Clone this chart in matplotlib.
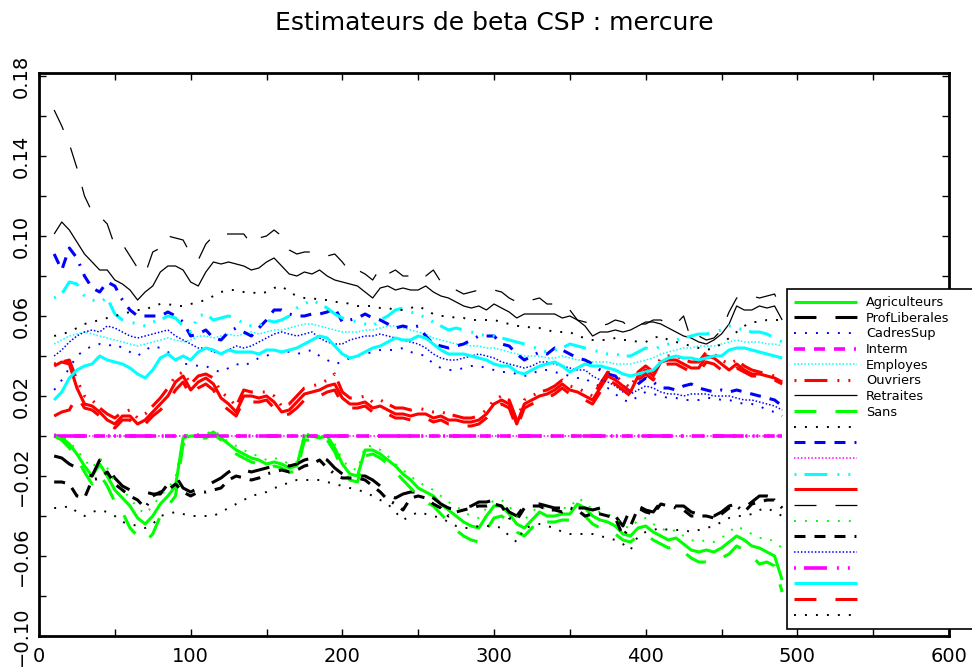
import matplotlib
matplotlib.use("Agg")
import matplotlib.pyplot as plt

plt.rcParams['lines.scale_dashes'] = False
plt.rcParams['font.family'] = ['DejaVu Sans']

# ---------------- data ----------------
x = list(range(10, 491, 5))  # estimation index

agri_1 = [0.000, -0.001, -0.004, -0.009, -0.015, -0.020, -0.014, -0.020, -0.027, -0.031,
          -0.035, -0.041, -0.044, -0.040, -0.034, -0.030, -0.025, -0.001, 0.000, 0.000,
          0.000, 0.002, -0.001, -0.004, -0.007, -0.009, -0.011, -0.012, -0.014, -0.013,
          -0.014, -0.016, -0.015, 0.000, 0.000, -0.001, 0.000, -0.006, -0.014, -0.019,
          -0.020, -0.007, -0.007, -0.009, -0.012, -0.015, -0.019, -0.022, -0.026, -0.028,
          -0.030, -0.034, -0.037, -0.040, -0.043, -0.045, -0.046, -0.040, -0.035, -0.035,
          -0.039, -0.044, -0.046, -0.042, -0.038, -0.040, -0.040, -0.039, -0.039, -0.034,
          -0.036, -0.040, -0.042, -0.043, -0.045, -0.049, -0.050, -0.046, -0.045, -0.048,
          -0.050, -0.052, -0.051, -0.054, -0.057, -0.058, -0.057, -0.058, -0.056, -0.053,
          -0.050, -0.052, -0.055, -0.056, -0.058, -0.060, -0.072]
agri_2 = [0.000, -0.002, -0.006, -0.011, -0.018, -0.024, -0.019, -0.025, -0.033, -0.038,
          -0.046, -0.050, -0.053, -0.049, -0.040, -0.035, -0.030, -0.004, -0.002, -0.001,
          -0.001, 0.001, -0.002, -0.005, -0.009, -0.011, -0.013, -0.014, -0.016, -0.015,
          -0.016, -0.018, -0.018, -0.002, -0.002, -0.003, -0.002, -0.008, -0.017, -0.022,
          -0.023, -0.010, -0.009, -0.011, -0.014, -0.018, -0.022, -0.026, -0.030, -0.033,
          -0.035, -0.039, -0.043, -0.047, -0.050, -0.052, -0.053, -0.047, -0.041, -0.040,
          -0.043, -0.048, -0.050, -0.046, -0.041, -0.043, -0.043, -0.042, -0.042, -0.037,
          -0.040, -0.044, -0.046, -0.047, -0.049, -0.052, -0.053, -0.050, -0.049, -0.052,
          -0.054, -0.056, -0.055, -0.058, -0.061, -0.063, -0.063, -0.063, -0.061, -0.059,
          -0.055, -0.057, -0.060, -0.064, -0.063, -0.065, -0.078]
agri_3 = [0.001, 0.000, -0.003, -0.007, -0.012, -0.016, -0.011, -0.016, -0.023, -0.027,
          -0.031, -0.036, -0.039, -0.035, -0.030, -0.026, -0.021, 0.000, 0.001, 0.001,
          0.001, 0.003, 0.000, -0.003, -0.005, -0.007, -0.009, -0.010, -0.012, -0.011,
          -0.012, -0.014, -0.013, 0.001, 0.001, 0.000, 0.001, -0.004, -0.012, -0.016,
          -0.017, -0.005, -0.005, -0.007, -0.010, -0.014, -0.017, -0.020, -0.023, -0.025,
          -0.027, -0.030, -0.033, -0.035, -0.038, -0.040, -0.041, -0.036, -0.032, -0.032,
          -0.035, -0.040, -0.042, -0.038, -0.035, -0.037, -0.037, -0.036, -0.036, -0.031,
          -0.033, -0.037, -0.038, -0.039, -0.041, -0.045, -0.046, -0.042, -0.041, -0.044,
          -0.046, -0.048, -0.047, -0.050, -0.052, -0.053, -0.052, -0.053, -0.051, -0.048,
          -0.045, -0.047, -0.049, -0.051, -0.051, -0.053, -0.056]

profl_1 = [-0.010, -0.011, -0.014, -0.016, -0.019, -0.020, -0.012, -0.016, -0.021, -0.025,
           -0.027, -0.028, -0.028, -0.029, -0.029, -0.024, -0.020, -0.026, -0.028, -0.026,
           -0.025, -0.023, -0.021, -0.018, -0.016, -0.017, -0.018, -0.017, -0.016, -0.015,
           -0.014, -0.015, -0.014, -0.012, -0.011, -0.010, -0.012, -0.016, -0.019, -0.020,
           -0.020, -0.020, -0.022, -0.025, -0.030, -0.031, -0.029, -0.028, -0.028, -0.029,
           -0.031, -0.034, -0.036, -0.037, -0.036, -0.035, -0.033, -0.033, -0.032, -0.033,
           -0.038, -0.040, -0.035, -0.034, -0.034, -0.035, -0.036, -0.036, -0.035, -0.036,
           -0.036, -0.037, -0.036, -0.038, -0.040, -0.045, -0.036, -0.035, -0.037, -0.038,
           -0.033, -0.034, -0.035, -0.035, -0.038, -0.039, -0.039, -0.040, -0.038, -0.035,
           -0.034, -0.036, -0.033, -0.030, -0.030, -0.031, -0.032]
profl_2 = [-0.036, -0.036, -0.035, -0.038, -0.040, -0.038, -0.037, -0.038, -0.040, -0.043,
           -0.044, -0.045, -0.046, -0.044, -0.040, -0.039, -0.038, -0.039, -0.040, -0.040,
           -0.040, -0.040, -0.038, -0.036, -0.034, -0.032, -0.030, -0.029, -0.028, -0.026,
           -0.025, -0.023, -0.022, -0.022, -0.022, -0.022, -0.023, -0.024, -0.025, -0.026,
           -0.027, -0.028, -0.030, -0.032, -0.034, -0.038, -0.042, -0.040, -0.038, -0.039,
           -0.040, -0.041, -0.043, -0.045, -0.046, -0.046, -0.045, -0.045, -0.045, -0.046,
           -0.050, -0.053, -0.046, -0.045, -0.044, -0.045, -0.046, -0.048, -0.049, -0.049,
           -0.049, -0.049, -0.050, -0.051, -0.052, -0.054, -0.057, -0.050, -0.048, -0.047,
           -0.046, -0.047, -0.047, -0.047, -0.048, -0.047, -0.046, -0.045, -0.043, -0.041,
           -0.040, -0.040, -0.039, -0.037, -0.036, -0.038, -0.040]
profl_3 = [-0.023, -0.023, -0.024, -0.030, -0.031, -0.022, -0.021, -0.018, -0.024, -0.027,
           -0.030, -0.032, -0.036, -0.030, -0.028, -0.027, -0.024, -0.028, -0.030, -0.028,
           -0.028, -0.027, -0.026, -0.022, -0.020, -0.021, -0.022, -0.021, -0.019, -0.018,
           -0.017, -0.018, -0.017, -0.015, -0.014, -0.012, -0.016, -0.019, -0.021, -0.021,
           -0.021, -0.022, -0.025, -0.028, -0.032, -0.034, -0.037, -0.031, -0.030, -0.031,
           -0.034, -0.036, -0.040, -0.038, -0.037, -0.036, -0.035, -0.035, -0.034, -0.035,
           -0.041, -0.042, -0.036, -0.035, -0.035, -0.037, -0.037, -0.038, -0.036, -0.037,
           -0.040, -0.039, -0.039, -0.040, -0.041, -0.050, -0.045, -0.036, -0.038, -0.039,
           -0.034, -0.035, -0.036, -0.037, -0.040, -0.040, -0.040, -0.041, -0.039, -0.036,
           -0.035, -0.038, -0.034, -0.033, -0.032, -0.032, -0.036]

cadres_1 = [0.023, 0.028, 0.034, 0.040, 0.043, 0.045, 0.046, 0.045, 0.046, 0.044,
            0.042, 0.040, 0.043, 0.045, 0.044, 0.042, 0.039, 0.036, 0.036, 0.035,
            0.035, 0.033, 0.032, 0.034, 0.036, 0.035, 0.037, 0.039, 0.040, 0.042,
            0.043, 0.042, 0.041, 0.042, 0.043, 0.040, 0.038, 0.036, 0.037, 0.039,
            0.040, 0.041, 0.042, 0.043, 0.043, 0.043, 0.044, 0.042, 0.041, 0.040,
            0.036, 0.034, 0.033, 0.033, 0.034, 0.035, 0.035, 0.034, 0.033, 0.032,
            0.032, 0.031, 0.030, 0.031, 0.033, 0.033, 0.032, 0.031, 0.030, 0.029,
            0.029, 0.026, 0.025, 0.024, 0.021, 0.018, 0.017, 0.020, 0.022, 0.021,
            0.020, 0.019, 0.019, 0.018, 0.018, 0.018, 0.019, 0.019, 0.018, 0.018,
            0.017, 0.016, 0.016, 0.015, 0.013, 0.012, 0.010]
cadres_2 = [0.091, 0.083, 0.094, 0.089, 0.080, 0.074, 0.072, 0.077, 0.075, 0.068,
            0.063, 0.060, 0.060, 0.060, 0.060, 0.062, 0.060, 0.057, 0.050, 0.051,
            0.053, 0.049, 0.048, 0.052, 0.054, 0.052, 0.050, 0.054, 0.058, 0.063,
            0.063, 0.061, 0.060, 0.060, 0.061, 0.061, 0.062, 0.064, 0.057, 0.058,
            0.059, 0.061, 0.059, 0.058, 0.056, 0.054, 0.055, 0.054, 0.055, 0.050,
            0.046, 0.045, 0.044, 0.045, 0.046, 0.048, 0.050, 0.050, 0.050, 0.046,
            0.045, 0.041, 0.038, 0.040, 0.042, 0.041, 0.044, 0.043, 0.041, 0.039,
            0.038, 0.036, 0.033, 0.031, 0.030, 0.025, 0.022, 0.026, 0.029, 0.027,
            0.024, 0.024, 0.023, 0.025, 0.026, 0.024, 0.023, 0.022, 0.023, 0.022,
            0.023, 0.022, 0.021, 0.020, 0.019, 0.018, 0.015]
cadres_3 = [0.040, 0.043, 0.047, 0.050, 0.052, 0.053, 0.052, 0.055, 0.054, 0.052,
            0.050, 0.049, 0.050, 0.051, 0.052, 0.053, 0.050, 0.048, 0.046, 0.044,
            0.044, 0.042, 0.041, 0.043, 0.045, 0.044, 0.045, 0.047, 0.049, 0.051,
            0.052, 0.051, 0.050, 0.051, 0.052, 0.049, 0.047, 0.046, 0.046, 0.048,
            0.049, 0.050, 0.050, 0.051, 0.050, 0.049, 0.048, 0.047, 0.046, 0.044,
            0.041, 0.039, 0.038, 0.038, 0.039, 0.040, 0.041, 0.040, 0.039, 0.037,
            0.036, 0.035, 0.034, 0.035, 0.037, 0.037, 0.036, 0.035, 0.034, 0.033,
            0.033, 0.030, 0.028, 0.027, 0.025, 0.022, 0.021, 0.023, 0.025, 0.024,
            0.022, 0.021, 0.021, 0.020, 0.021, 0.021, 0.021, 0.020, 0.020, 0.020,
            0.019, 0.018, 0.018, 0.017, 0.016, 0.015, 0.013]

interm_1 = [0.0] * len(x)
interm_2 = [0.0] * len(x)
interm_3 = [0.0] * len(x)

employes_1 = [0.046, 0.048, 0.050, 0.051, 0.052, 0.051, 0.050, 0.049, 0.048, 0.047,
              0.046, 0.045, 0.046, 0.047, 0.048, 0.049, 0.048, 0.047, 0.048, 0.050,
              0.050, 0.049, 0.050, 0.051, 0.050, 0.051, 0.052, 0.051, 0.052, 0.053,
              0.053, 0.054, 0.055, 0.056, 0.056, 0.055, 0.054, 0.053, 0.052, 0.052,
              0.052, 0.053, 0.053, 0.054, 0.055, 0.055, 0.054, 0.053, 0.052, 0.051,
              0.049, 0.048, 0.047, 0.046, 0.046, 0.045, 0.045, 0.044, 0.044, 0.043,
              0.042, 0.041, 0.040, 0.040, 0.040, 0.039, 0.039, 0.040, 0.039, 0.038,
              0.038, 0.037, 0.037, 0.037, 0.036, 0.036, 0.036, 0.037, 0.038, 0.039,
              0.041, 0.042, 0.043, 0.044, 0.044, 0.045, 0.045, 0.045, 0.046, 0.047,
              0.048, 0.047, 0.047, 0.047, 0.046, 0.046, 0.045]
employes_2 = [0.069, 0.071, 0.077, 0.076, 0.070, 0.068, 0.067, 0.069, 0.061, 0.058,
              0.057, 0.056, 0.055, 0.057, 0.058, 0.060, 0.059, 0.055, 0.052, 0.060,
              0.061, 0.058, 0.059, 0.060, 0.059, 0.056, 0.055, 0.055, 0.058, 0.057,
              0.058, 0.060, 0.064, 0.066, 0.068, 0.066, 0.064, 0.061, 0.059, 0.058,
              0.057, 0.056, 0.055, 0.058, 0.060, 0.063, 0.064, 0.062, 0.061, 0.059,
              0.057, 0.055, 0.053, 0.054, 0.053, 0.052, 0.051, 0.050, 0.050, 0.049,
              0.048, 0.047, 0.046, 0.045, 0.043, 0.042, 0.043, 0.044, 0.046, 0.045,
              0.044, 0.043, 0.042, 0.041, 0.041, 0.040, 0.040, 0.042, 0.044, 0.043,
              0.045, 0.046, 0.048, 0.049, 0.050, 0.051, 0.051, 0.052, 0.053, 0.055,
              0.054, 0.053, 0.052, 0.052, 0.051, 0.049, 0.047]
employes_3 = [0.018, 0.022, 0.029, 0.033, 0.035, 0.036, 0.040, 0.038, 0.037, 0.036,
              0.034, 0.031, 0.029, 0.033, 0.039, 0.041, 0.038, 0.040, 0.038, 0.042,
              0.044, 0.043, 0.041, 0.043, 0.042, 0.042, 0.042, 0.041, 0.043, 0.043,
              0.042, 0.043, 0.044, 0.046, 0.048, 0.050, 0.049, 0.045, 0.041, 0.039,
              0.040, 0.042, 0.044, 0.045, 0.047, 0.049, 0.048, 0.048, 0.050, 0.049,
              0.046, 0.043, 0.041, 0.041, 0.041, 0.040, 0.039, 0.038, 0.036, 0.035,
              0.035, 0.032, 0.031, 0.033, 0.035, 0.036, 0.037, 0.035, 0.032, 0.034,
              0.036, 0.035, 0.035, 0.034, 0.033, 0.031, 0.030, 0.031, 0.032, 0.033,
              0.037, 0.039, 0.040, 0.039, 0.039, 0.038, 0.039, 0.040, 0.040, 0.043,
              0.044, 0.044, 0.043, 0.042, 0.041, 0.040, 0.039]

ouvriers_1 = [0.036, 0.037, 0.038, 0.028, 0.020, 0.018, 0.014, 0.011, 0.009, 0.012,
              0.013, 0.009, 0.011, 0.015, 0.019, 0.024, 0.030, 0.032, 0.026, 0.030,
              0.031, 0.029, 0.022, 0.019, 0.015, 0.023, 0.022, 0.022, 0.022, 0.020,
              0.015, 0.016, 0.020, 0.024, 0.025, 0.026, 0.028, 0.031, 0.022, 0.019,
              0.019, 0.020, 0.017, 0.018, 0.016, 0.014, 0.014, 0.013, 0.014, 0.013,
              0.012, 0.012, 0.011, 0.010, 0.009, 0.009, 0.010, 0.013, 0.018, 0.020,
              0.018, 0.008, 0.018, 0.020, 0.022, 0.023, 0.025, 0.028, 0.025, 0.024,
              0.022, 0.020, 0.026, 0.032, 0.030, 0.027, 0.024, 0.032, 0.035, 0.032,
              0.039, 0.040, 0.040, 0.038, 0.037, 0.037, 0.042, 0.041, 0.038, 0.036,
              0.038, 0.035, 0.033, 0.032, 0.031, 0.030, 0.028]
ouvriers_2 = [0.035, 0.037, 0.036, 0.024, 0.016, 0.015, 0.012, 0.008, 0.006, 0.010,
              0.010, 0.006, 0.008, 0.012, 0.016, 0.020, 0.027, 0.030, 0.023, 0.027,
              0.029, 0.026, 0.019, 0.016, 0.012, 0.020, 0.020, 0.019, 0.020, 0.017,
              0.012, 0.013, 0.017, 0.021, 0.022, 0.023, 0.025, 0.026, 0.019, 0.016,
              0.016, 0.017, 0.014, 0.015, 0.013, 0.011, 0.011, 0.010, 0.011, 0.011,
              0.009, 0.010, 0.008, 0.008, 0.007, 0.007, 0.008, 0.011, 0.016, 0.018,
              0.016, 0.006, 0.016, 0.018, 0.020, 0.021, 0.023, 0.026, 0.023, 0.022,
              0.020, 0.018, 0.024, 0.030, 0.028, 0.025, 0.022, 0.030, 0.033, 0.030,
              0.037, 0.038, 0.038, 0.036, 0.034, 0.034, 0.040, 0.039, 0.036, 0.033,
              0.036, 0.033, 0.031, 0.031, 0.030, 0.029, 0.027]
ouvriers_3 = [0.010, 0.012, 0.013, 0.020, 0.014, 0.013, 0.010, 0.006, 0.004, 0.008,
              0.008, 0.004, 0.006, 0.010, 0.013, 0.017, 0.023, 0.027, 0.020, 0.024,
              0.026, 0.023, 0.016, 0.013, 0.010, 0.018, 0.017, 0.017, 0.018, 0.014,
              0.010, 0.011, 0.014, 0.018, 0.019, 0.020, 0.022, 0.023, 0.016, 0.014,
              0.014, 0.015, 0.012, 0.013, 0.011, 0.009, 0.009, 0.008, 0.009, 0.009,
              0.007, 0.008, 0.006, 0.006, 0.005, 0.005, 0.006, 0.009, 0.014, 0.016,
              0.014, 0.004, 0.014, 0.016, 0.018, 0.019, 0.021, 0.024, 0.021, 0.020,
              0.018, 0.016, 0.022, 0.028, 0.026, 0.023, 0.020, 0.028, 0.031, 0.028,
              0.035, 0.036, 0.036, 0.034, 0.032, 0.032, 0.037, 0.036, 0.033, 0.031,
              0.034, 0.032, 0.030, 0.030, 0.029, 0.028, 0.026]

retraites_1 = [0.101, 0.107, 0.103, 0.097, 0.091, 0.087, 0.083, 0.083, 0.078, 0.076,
               0.073, 0.068, 0.072, 0.075, 0.082, 0.085, 0.085, 0.083, 0.077, 0.075,
               0.082, 0.087, 0.086, 0.087, 0.086, 0.085, 0.083, 0.084, 0.087, 0.089,
               0.085, 0.081, 0.080, 0.082, 0.081, 0.083, 0.080, 0.078, 0.077, 0.076,
               0.075, 0.072, 0.069, 0.074, 0.075, 0.073, 0.074, 0.073, 0.073, 0.075,
               0.072, 0.070, 0.069, 0.067, 0.065, 0.064, 0.065, 0.063, 0.066, 0.064,
               0.062, 0.059, 0.061, 0.061, 0.061, 0.061, 0.061, 0.059, 0.060, 0.058,
               0.055, 0.050, 0.052, 0.052, 0.053, 0.052, 0.053, 0.055, 0.057, 0.057,
               0.056, 0.054, 0.052, 0.050, 0.049, 0.047, 0.046, 0.048, 0.051, 0.056,
               0.065, 0.063, 0.063, 0.065, 0.064, 0.065, 0.058]
retraites_2 = [0.163, 0.155, 0.146, 0.134, 0.120, 0.112, 0.110, 0.106, 0.095, 0.096,
               0.090, 0.084, 0.081, 0.092, 0.094, 0.100, 0.099, 0.098, 0.091, 0.088,
               0.096, 0.100, 0.101, 0.101, 0.101, 0.101, 0.096, 0.099, 0.100, 0.103,
               0.100, 0.093, 0.091, 0.092, 0.092, 0.091, 0.090, 0.091, 0.087, 0.082,
               0.083, 0.081, 0.078, 0.084, 0.081, 0.083, 0.080, 0.080, 0.082, 0.080,
               0.083, 0.077, 0.075, 0.073, 0.071, 0.072, 0.073, 0.073, 0.073, 0.072,
               0.069, 0.067, 0.068, 0.068, 0.069, 0.066, 0.066, 0.064, 0.063, 0.058,
               0.057, 0.056, 0.055, 0.056, 0.058, 0.057, 0.054, 0.056, 0.056, 0.058,
               0.058, 0.056, 0.056, 0.060, 0.048, 0.050, 0.048, 0.049, 0.053, 0.062,
               0.069, 0.070, 0.070, 0.069, 0.070, 0.071, 0.062]
retraites_3 = [0.050, 0.051, 0.052, 0.054, 0.056, 0.057, 0.058, 0.059, 0.060, 0.061,
               0.062, 0.063, 0.063, 0.065, 0.066, 0.066, 0.065, 0.065, 0.066, 0.067,
               0.068, 0.070, 0.072, 0.073, 0.073, 0.072, 0.072, 0.071, 0.072, 0.074,
               0.075, 0.072, 0.070, 0.069, 0.069, 0.068, 0.068, 0.067, 0.067, 0.066,
               0.065, 0.065, 0.065, 0.064, 0.064, 0.063, 0.063, 0.064, 0.065, 0.063,
               0.061, 0.060, 0.060, 0.059, 0.059, 0.058, 0.058, 0.058, 0.058, 0.057,
               0.056, 0.055, 0.055, 0.054, 0.054, 0.053, 0.052, 0.052, 0.052, 0.050,
               0.049, 0.048, 0.048, 0.048, 0.049, 0.048, 0.048, 0.047, 0.047, 0.049,
               0.050, 0.048, 0.047, 0.046, 0.045, 0.044, 0.043, 0.044, 0.046, 0.049,
               0.052, 0.055, 0.057, 0.057, 0.058, 0.058, 0.058]

legend_labels = ["Agriculteurs", "ProfLiberales", "CadresSup", "Interm", "Employes",
                 "Ouvriers", "Retraites", "Sans"]

series = [agri_1, profl_1, cadres_1, interm_1, employes_1, ouvriers_1, retraites_1,
          agri_2, profl_2, cadres_2, interm_2, employes_2, ouvriers_2, retraites_2,
          agri_3, profl_3, cadres_3, interm_3, employes_3, ouvriers_3, retraites_3]

title = "Estimateurs de beta CSP : mercure"

# ---------------- styles ----------------
colors = ["#00ff00", "black", "#0000ff", "#ff00ff", "#00ffff", "#ff0000", "black"]
styles = [
    ("solid", "-"),
    ("longdash", (0, (15.8, 13.7))),
    ("dot", (0, (1.4, 6.5))),
    ("dashdot", (0, (7.9, 6.5, 7.9, 6.5, 7.9, 6.5, 1.4, 6.5))),
    ("densedot", (0, (1.1, 1.4))),
    ("dotdash", (0, (1.4, 5.8, 16.5, 7.2, 1.4, 6.5, 1.4, 6.5))),
]

fig = plt.figure(figsize=(9.72, 6.67), dpi=100)
ax = fig.add_axes([39 / 972, 1 - 636 / 667, (949 - 39) / 972, (636 - 73) / 667])

handles = []
for i, ys in enumerate(series):
    name, ls = styles[i % 6]
    ci = i % 7
    col = colors[ci]
    z = 2
    if name == "dot":
        lw = 1.4
    elif name == "densedot":
        lw = 1.1
    elif ci == 6:
        lw = 0.9
    else:
        lw = 2.2
    if ci == 3 and name == "densedot":
        z = 1.5  # keep the thin magenta dots under the thick magenta dashes
    if ci == 3 and name != "densedot":
        lw = 2.6
    line, = ax.plot(x, ys, color=col, linestyle=ls, linewidth=lw,
                    solid_capstyle="butt", dash_capstyle="butt", zorder=z)
    handles.append(line)

ax.set_xlim(0, 600)
ax.set_ylim(-0.10, 0.1815)

ax.set_xticks([0, 100, 200, 300, 400, 500, 600])
ax.set_xticks([50, 150, 250, 350, 450, 550], minor=True)
yt = [-0.10, -0.06, -0.02, 0.02, 0.06, 0.10, 0.14, 0.18]
ax.set_yticks(yt)
ax.set_yticklabels(["%.2f" % v if v >= 0 else "\u2212%.2f" % abs(v) for v in yt])
ax.set_yticks([-0.08, -0.04, 0.0, 0.04, 0.08, 0.12, 0.16], minor=True)

ax.tick_params(which="both", direction="in", length=5, width=1.0,
               top=True, right=True, labelsize=14, color="black")
ax.tick_params(axis="x", pad=8)
ax.tick_params(axis="y", pad=6)
for lab in ax.get_yticklabels():
    lab.set_rotation(90)
    lab.set_va("center")

for sp in ax.spines.values():
    sp.set_linewidth(2.0)

ax.set_title(title, fontsize=18, pad=31)

labels = legend_labels + [""] * (len(series) - len(legend_labels))
leg = ax.legend(handles, labels, loc="upper left",
                bbox_to_anchor=(787 / 972, 1 - 631 / 667, (1010 - 787) / 972, (631 - 289) / 667),
                bbox_transform=fig.transFigure, mode="expand", borderaxespad=0,
                fontsize=9.3, handlelength=4.85, handletextpad=0.7, borderpad=0.55,
                labelspacing=0.205, fancybox=False, framealpha=1, edgecolor="black",
                frameon=True)
leg.get_frame().set_linewidth(1.2)

fig.savefig("out.png", dpi=100)
